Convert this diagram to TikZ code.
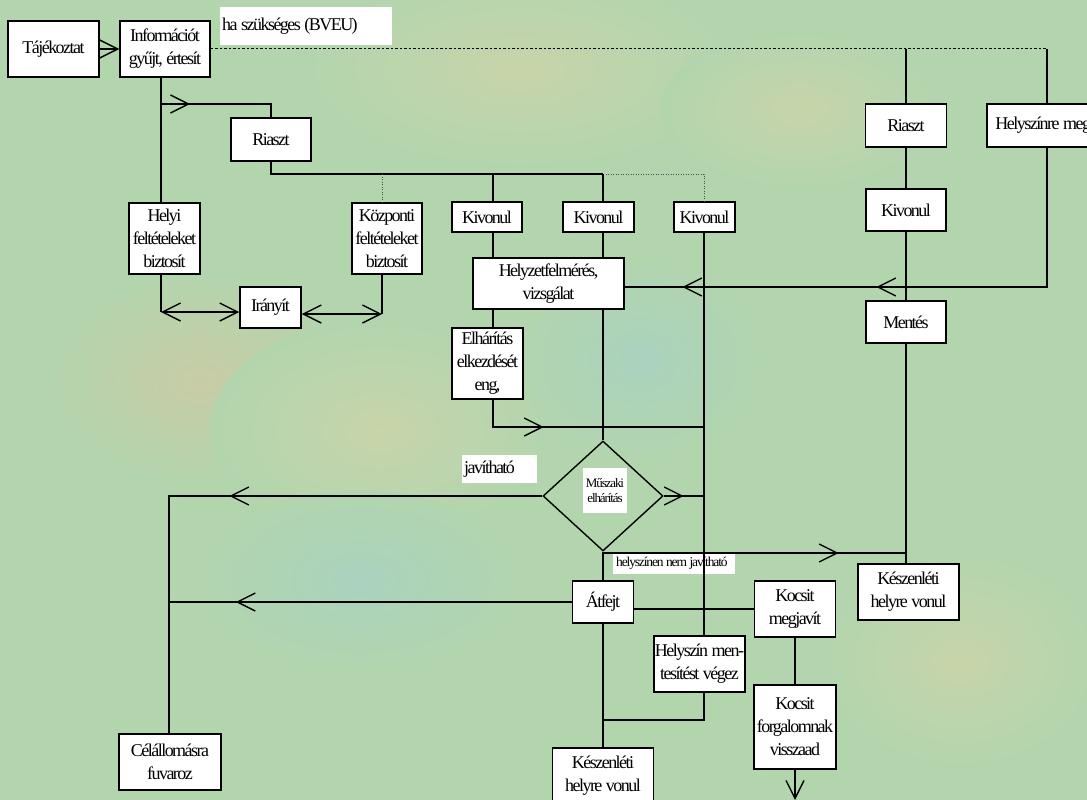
\documentclass[tikz,border=0pt]{standalone}
\usepackage{fontspec}
\setmainfont[LetterSpace=-8.5]{Liberation Serif}
\usetikzlibrary{arrows.meta,shapes.geometric,decorations.markings}
\newcommand\bigfs{\fontsize{18}{23}\selectfont}
\newcommand\smallfs{\fontsize{13}{15}\selectfont}
\newcommand\midfs{\fontsize{13.5}{16}\selectfont}
\newcommand\ws{\hspace{3.5pt}}
\newcommand\wss{\hspace{2.5pt}}
\definecolor{bg}{RGB}{178,213,174}
\definecolor{bgy}{RGB}{200,212,170}
\definecolor{bgo}{RGB}{200,204,166}
\definecolor{bgb}{RGB}{170,210,190}
\begin{document}
\begin{tikzpicture}[x=1pt,y=-1pt,
  >={Straight Barb[length=18pt,width=18pt,line width=1.4pt]},
  box/.style={draw=black, fill=white, line width=1.5pt, inner sep=0pt, align=center, font=\bigfs},
  sz/.style 2 args={minimum width=#1pt, minimum height=#2pt},
  lbl/.style={fill=white, inner sep=0pt, font=\bigfs},
  ln/.style={line width=1.4pt},
  mk/.style={postaction={decorate, decoration={markings, mark=at position #1 with {\arrow{>}}}}},
  dsh/.style={line width=1pt, dash pattern=on 2.5pt off 2pt},
  dots/.style={line width=1pt, dash pattern=on 1pt off 1.5pt, draw=black!70}]
\useasboundingbox (0,0) rectangle (1087,800);
\clip (0,0) rectangle (1087,800);
% background
\fill[bg] (0,0) rectangle (1087,800);
\shade[inner color=bgy, outer color=bg] (520,70) ellipse (220 and 100);
\shade[inner color=bgo, outer color=bg] (200,380) ellipse (160 and 110);
\shade[inner color=bgy, outer color=bg] (380,430) ellipse (170 and 110);
\shade[inner color=bgb, outer color=bg] (640,360) ellipse (120 and 100);
\shade[inner color=bgb, outer color=bg] (360,580) ellipse (160 and 90);
\shade[inner color=bgy, outer color=bg] (800,110) ellipse (140 and 80);
\shade[inner color=bgy, outer color=bg] (960,660) ellipse (140 and 110);

% column / row helpers
\coordinate (cA) at (161,0);
\coordinate (cK) at (382,0);
\coordinate (c1) at (493,0);
\coordinate (c2) at (603,0);
\coordinate (c3) at (704,0);
\coordinate (cR2) at (906,0);
\coordinate (cH) at (1047,0);
\coordinate (cL) at (169,0);
\coordinate (r287) at (0,287);
\coordinate (r312) at (0,312);
\coordinate (r314) at (0,314);
\coordinate (r427) at (0,427);
\coordinate (r553) at (0,553);
\coordinate (r720) at (0,720);
\coordinate (j1) at (161,104);
\coordinate (bus) at (271,174);
\coordinate (endk) at (795,800);

% labels
\node[lbl, anchor=north west, text width=168pt, inner xsep=2pt, minimum height=38pt, align=left] (hasz) at (220,7) {ha\ws szükséges\ws (BVEU)};
\node[lbl, anchor=north west, text width=71pt, inner xsep=2pt, minimum height=28pt, align=left] (jav) at (462,455) {javítható};
\node[lbl, anchor=north west, text width=116pt, inner xsep=3pt, minimum height=22pt, align=left, font=\midfs] (hnj) at (613,552) {helyszínen\wss nem\wss javítható};

% boxes
\node[box, sz={91}{56}] (taj) at (53.5,49) {Tájékoztat};
\node[box, sz={90}{56}] (info) at (165,49) {Információt\\gyűjt,\ws értesít};
\node[box, sz={80}{43}] (riaszt1) at (271,139.5) {Riaszt};
\node[box, sz={81}{43}] (riaszt2) at (906,125.5) {Riaszt};
\node[box, sz={120}{43}] (helymegy) at (1047,125.5) {Helyszínre\ws megy};
\node[box, sz={71}{71}] (helyi) at (164.5,238.5) {Helyi\\feltételeket\\biztosít};
\node[box, sz={70}{71}] (kozp) at (387,238.5) {Központi\\feltételeket\\biztosít};
\node[box, sz={61}{41}] (iranyit) at (270.5,307.5) {Irányít};
\node[box, sz={70}{30}] (kiv1) at (487,217) {Kivonul};
\node[box, sz={71}{30}] (kiv2) at (598.5,217) {Kivonul};
\node[box, sz={61}{30}] (kiv3) at (704.5,217) {Kivonul};
\node[box, sz={80}{42}] (kiv4) at (906,210) {Kivonul};
\node[box, sz={151}{51}] (helyzet) at (548.5,283.5) {Helyzetfelmérés,\\vizsgálat};
\node[box, sz={80}{42}] (mentes) at (906,322) {Mentés};
\node[box, sz={71}{71}] (elh) at (487.5,363.5) {Elhárítás\\elkezdését\\eng,};
\node[diamond, draw=black, line width=1.4pt, minimum width=120pt, minimum height=110pt, inner sep=0pt] (dia) at (603,496) {};
\node[lbl, sz={44}{45}, align=center, font=\smallfs] (mus) at (605,490.5) {Műszaki\\elhárítás};
\node[box, sz={61}{42}] (atfejt) at (603,602) {Átfejt};
\node[box, sz={81}{56}] (kmeg) at (795,609) {Kocsit\\megjavít};
\node[box, sz={91}{56}] (hmv) at (699.5,664) {Helyszín\ws men-\\tesítést\ws végez};
\node[box, sz={101}{56}] (kesz1) at (603,776) {Készenléti\\helyre\ws vonul};
\node[box, sz={82}{84}] (kfv) at (795,727) {Kocsit\\forgalomnak\\visszaad};
\node[box, sz={101}{56}] (kesz2) at (908.5,592) {Készenléti\\helyre\ws vonul};
\node[box, sz={102}{56}] (cel) at (170,762) {Célállomásra\\fuvaroz};

% connectors
\draw[ln,->] (taj) -- (info);
\draw[ln] (info.south -| cA) -- (helyi.north -| cA);
\draw[ln, mk=29pt] (j1) -| (riaszt1.north);
\draw[ln] (riaszt1.south) -- (bus) -- (bus -| c2);
\draw[dots] (bus -| c2) -- (bus -| c3) -- (kiv3.north -| c3);
\draw[dots] (bus -| cK) -- (kozp.north -| cK);
\draw[ln] (bus -| c1) -- (kiv1.north -| c1);
\draw[ln] (bus -| c2) -- (kiv2.north -| c2);
\draw[ln] (kiv1.south -| c1) -- (helyzet.north -| c1);
\draw[ln] (kiv2.south -| c2) -- (helyzet.north -| c2);
\draw[ln] (kiv3.south -| c3) -- (hmv.north -| c3);
\draw[ln] (helyzet.south -| c1) -- (elh.north -| c1);
\draw[ln] (helyzet.south -| c2) -- (dia.north);
\draw[dsh] (info.east) -- (info.east -| cH);
\draw[ln] (info.east -| cR2) -- (riaszt2.north);
\draw[ln] (info.east -| cH) -- (helymegy.north);
\draw[ln] (riaszt2.south) -- (kiv4.north);
\draw[ln] (kiv4.south) -- (mentes.north);
\draw[ln] (mentes.south) -- (kesz2.north -| cR2);
\draw[ln, mk=310pt, mk=504pt] (helymegy.south) |- (r287 -| helyzet.east);
\draw[ln] (helyi.south -| cA) -- (r312 -| cA);
\draw[ln,<->] (r312 -| cA) -- (r312 -| iranyit.west);
\draw[ln,<->] (r314 -| iranyit.east) -- (r314 -| cK);
\draw[ln] (kozp.south -| cK) -- (r314 -| cK);
\draw[ln, mk=78pt] (elh.south -| c1) |- (r427 -| c3);
\draw[ln, mk=313pt] (dia.west) -- (dia.west -| cL) -- (cel.north -| cL);
\draw[ln, mk=20pt] (dia.east) -- (dia.east -| c3);
\draw[ln, mk=237pt] (dia.south) |- (r553 -| cR2);
\draw[ln] (dia.south) -- (atfejt.north);
\draw[ln, mk=336pt] (atfejt.west) -- (atfejt.west -| cL);
\draw[ln] (kmeg.west) -- (kmeg.west -| atfejt.east);
\draw[ln] (atfejt.south) -- (kesz1.north);
\draw[ln] (hmv.south -| c3) |- (r720 -| c2);
\draw[ln] (kmeg.south) -- (kfv.north);
\draw[ln,->] (kfv.south) -- (endk);
\end{tikzpicture}
\end{document}
